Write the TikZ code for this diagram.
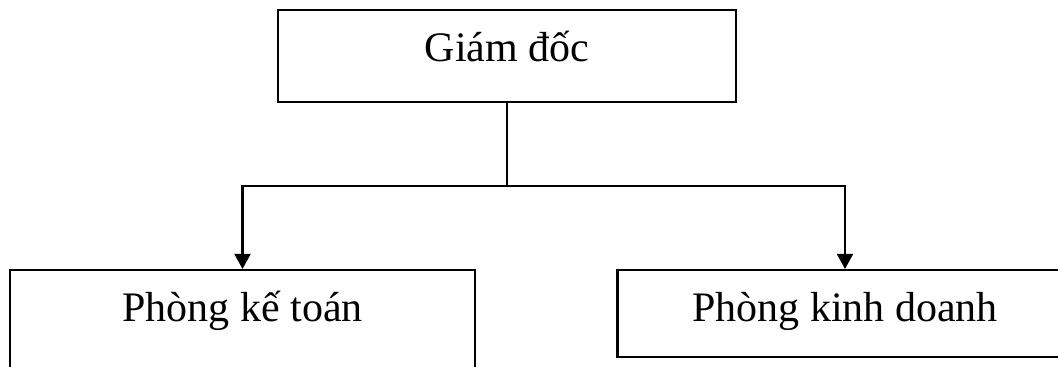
\documentclass[tikz,border=0pt]{standalone}
\usepackage{fontspec}
\setmainfont{Liberation Serif}
\usetikzlibrary{arrows.meta}

\tikzset{
    box/.style={draw, line width=1.2pt, inner sep=0pt, anchor=base,
        text height=1.04cm, font=\fontsize{23.9}{28}\selectfont},
    link/.style={line width=1.2pt},
    tip/.style={link, -{Triangle[width=0.32cm, length=0.3cm]}}
}

\begin{document}
\begin{tikzpicture}
    \useasboundingbox (0,0) rectangle (21.16,7.34);

    % boxes, placed at the baseline of their text
    \node[box, minimum width=9.16cm, text depth=0.8cm] (giamdoc) at (10.14,6.10) {Giám đốc};
    \node[box, minimum width=9.3cm, text depth=1.0cm] (ketoan) at (4.85,0.90) {Phòng kế toán};
    \node[box, minimum width=9.1cm, text depth=0.7cm] (kinhdoanh) at (16.90,0.90) {Phòng kinh doanh};

    % branch point under the top box
    \coordinate (split) at (giamdoc.south |- 0,3.62);
    \draw[link] (giamdoc.south) -- (split);
    \draw[tip] (split) -| (ketoan.north);
    \draw[tip] (split) -| (kinhdoanh.north);
\end{tikzpicture}
\end{document}
